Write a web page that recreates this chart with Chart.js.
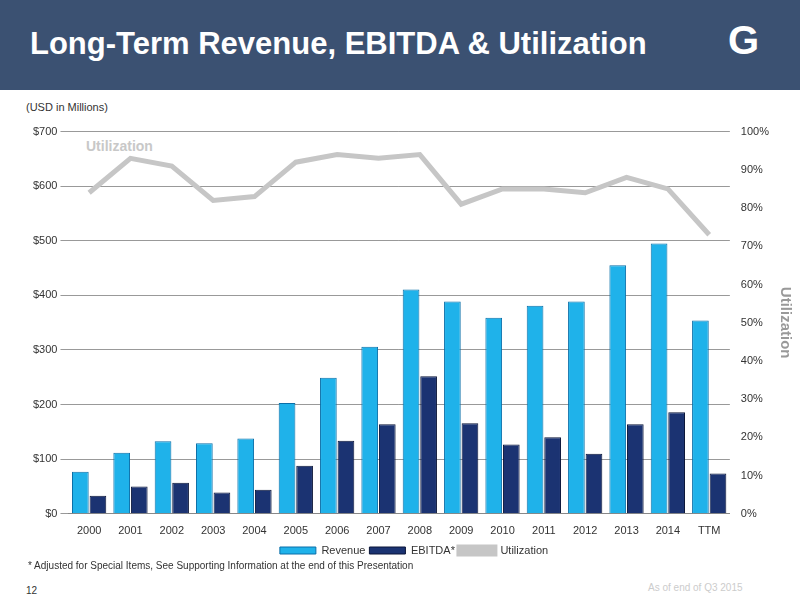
<!DOCTYPE html>
<html><head><meta charset="utf-8">
<script src="https://cdn.jsdelivr.net/npm/chart.js@4"></script>
<style>
body{margin:0;width:800px;height:600px;position:relative;font-family:"Liberation Sans",Arial,sans-serif;background:#fff;overflow:hidden}
#hdr{position:absolute;left:0;top:0;width:800px;height:90px;background:#3b5172}
#hdr h1{position:absolute;left:30px;top:26px;margin:0;color:#fff;font-size:31px;font-weight:bold}
#logo{position:absolute;left:728px;top:18px;color:#fff;font-size:40px;font-weight:bold}
.t{position:absolute;font-size:11px;color:#333}
#wrap{position:absolute;left:0;top:122px;width:800px;height:444px}
</style></head><body>
<div id="hdr"><h1>Long-Term Revenue, EBITDA &amp; Utilization</h1><div id="logo">G</div></div>
<div class="t" style="left:26px;top:101px">(USD in Millions)</div>
<div style="position:absolute;left:86px;top:138px;font-size:14px;font-weight:bold;color:#c8c8c8">Utilization</div>
<div id="wrap"><canvas id="c"></canvas></div>
<div class="t" style="left:28px;top:560px;font-size:10px">* Adjusted for Special Items, See Supporting Information at the end of this Presentation</div>
<div class="t" style="left:26px;top:585px;font-size:10px">12</div>
<div class="t" style="left:648px;top:582px;font-size:10px;color:#ccc">As of end of Q3 2015</div>
<script>
const categories=["2000","2001","2002","2003","2004","2005","2006","2007","2008","2009","2010","2011","2012","2013","2014","TTM"];
const revenue=[77,112,133,129,138,203,249,306,411,389,359,381,389,455,495,354];
const ebitda=[33,50,57,39,44,88,134,164,252,166,127,140,110,164,186,74];
const utilization=[84,93,91,82,83,92,94,93,94,81,85,85,84,88,85,73];
new Chart(document.getElementById('c'),{
 data:{labels:categories,datasets:[
  {type:'line',label:'Utilization',data:utilization,yAxisID:'y2',borderColor:'#c6c6c6',backgroundColor:'#c6c6c6',borderWidth:5,pointRadius:0,tension:0,order:0},
  {type:'bar',label:'Revenue',data:revenue,yAxisID:'y',backgroundColor:'#1fb2ea',borderColor:'#0a6fa8',borderWidth:1,order:1,categoryPercentage:0.85,barPercentage:0.95},
  {type:'bar',label:'EBITDA*',data:ebitda,yAxisID:'y',backgroundColor:'#1b3372',borderColor:'#0a1538',borderWidth:1,order:1,categoryPercentage:0.85,barPercentage:0.95}
 ]},
 options:{responsive:true,maintainAspectRatio:false,animation:false,
  layout:{padding:{left:30,right:2,top:5,bottom:0}},
  plugins:{legend:{position:'bottom',labels:{padding:4,boxWidth:36,boxHeight:7,font:{size:11},color:'#333',
   sort:(a,b)=>({Revenue:0,'EBITDA*':1,Utilization:2}[a.text]-({Revenue:0,'EBITDA*':1,Utilization:2}[b.text]))}},tooltip:{enabled:false}},
  scales:{
   x:{grid:{display:false},border:{color:'#888'},ticks:{color:'#333',font:{size:11}}},
   y:{min:0,max:700,ticks:{stepSize:100,color:'#333',font:{size:11},callback:v=>'$'+v},grid:{color:'#999'},border:{display:false}},
   y2:{position:'right',min:0,max:100,ticks:{stepSize:10,color:'#333',font:{size:11},callback:v=>v+'%'},grid:{display:false},border:{display:false},
    title:{display:true,text:'Utilization',color:'#999',font:{size:15,weight:'bold'}}}
  }}
});
</script></body></html>
